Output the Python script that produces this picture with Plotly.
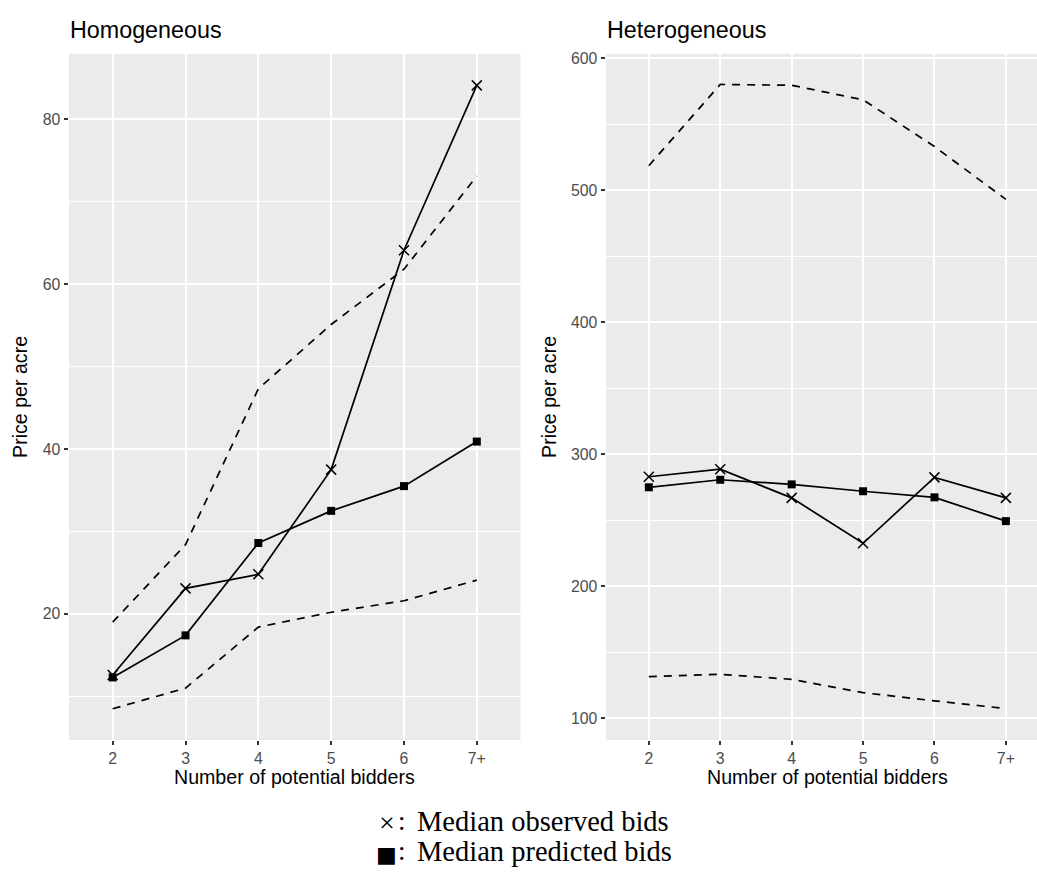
import plotly.graph_objects as go

W, H = 1037, 876

categories = ["2", "3", "4", "5", "6", "7+"]

# Homogeneous panel
homo_observed = [12.6, 23.1, 24.8, 37.5, 64.1, 84.1]
homo_predicted = [12.3, 17.4, 28.6, 32.5, 35.5, 40.9]
homo_upper = [19.0, 28.4, 47.3, 55.1, 61.8, 73.1]
homo_lower = [8.5, 11.0, 18.4, 20.2, 21.6, 24.1]

# Heterogeneous panel
hetero_observed = [283.0, 288.7, 267.0, 232.6, 282.5, 267.0]
hetero_predicted = [275.0, 280.7, 277.2, 272.0, 267.4, 249.4]
hetero_upper = [518.5, 580.0, 579.4, 568.4, 533.0, 493.0]
hetero_lower = [131.6, 133.4, 129.6, 119.5, 113.3, 107.5]

panel_titles = ["Homogeneous", "Heterogeneous"]
x_title = "Number of potential bidders"
y_title = "Price per acre"
legend_lines = ["Median observed bids", "Median predicted bids"]

SANS = "Liberation Sans, Arial, Helvetica, sans-serif"
SERIF = "Liberation Serif, Times New Roman, serif"
LW = 1.7
DASH = "8px,7px"

fig = go.Figure()

def add_panel(xa, ya, obs, pred, up, lo):
    for band in (up, lo):
        fig.add_trace(go.Scatter(x=categories, y=band, mode="lines",
                                 line=dict(color="black", width=LW, dash=DASH),
                                 xaxis=xa, yaxis=ya, showlegend=False, hoverinfo="skip"))
    fig.add_trace(go.Scatter(x=categories, y=obs, mode="lines+markers",
                             line=dict(color="black", width=LW),
                             marker=dict(symbol="x-thin-open", size=10,
                                         line=dict(color="black", width=1.5)),
                             xaxis=xa, yaxis=ya, showlegend=False))
    fig.add_trace(go.Scatter(x=categories, y=pred, mode="lines+markers",
                             line=dict(color="black", width=LW),
                             marker=dict(symbol="square", size=8, color="black"),
                             xaxis=xa, yaxis=ya, showlegend=False))

add_panel("x", "y", homo_observed, homo_predicted, homo_upper, homo_lower)
add_panel("x2", "y2", hetero_observed, hetero_predicted, hetero_upper, hetero_lower)

def px_x(p):
    return p / W

def px_y(p):
    return 1 - p / H

ydom = [px_y(739.3), px_y(50)]

xcommon = dict(type="category", categoryorder="array", categoryarray=categories,
               showgrid=True, gridcolor="white", gridwidth=2,
               ticks="outside", ticklen=4.5, tickwidth=1.6, tickcolor="#333333",
               tickfont=dict(family=SANS, size=15.8, color="#4D4D4D"),
               showline=False, zeroline=False)
ycommon = dict(showgrid=True, gridcolor="white", gridwidth=2,
               ticks="outside", ticklen=4.5, tickwidth=1.6, tickcolor="#333333",
               tickfont=dict(family=SANS, size=15.8, color="#4D4D4D"),
               showline=False, zeroline=False, domain=ydom)

fig.update_layout(
    width=W, height=H,
    margin=dict(l=0, r=0, t=0, b=0),
    paper_bgcolor="white", plot_bgcolor="#EBEBEB",
    showlegend=False,
    xaxis=dict(xcommon, domain=[px_x(69), px_x(520.5)], range=[-0.6, 5.6], anchor="y"),
    yaxis=dict(ycommon, range=[4.72, 87.93], tick0=0, dtick=20, anchor="x",
               minor=dict(showgrid=True, gridcolor="white", gridwidth=1, dtick=10, tick0=0, ticks="")),
    xaxis2=dict(xcommon, domain=[px_x(606), 1.0], range=[-0.6, 5.436], anchor="y2"),
    yaxis2=dict(ycommon, range=[83.72, 603.24], tick0=0, dtick=100, anchor="x2",
                minor=dict(showgrid=True, gridcolor="white", gridwidth=1, dtick=50, tick0=0, ticks="")),
)

ann = []
# panel titles
for t, x0 in zip(panel_titles, [68, 605]):
    ann.append(dict(text=t, x=px_x(x0), y=px_y(26), xref="paper", yref="paper",
                    xanchor="left", yanchor="middle", showarrow=False,
                    font=dict(family=SANS, size=23.3, color="black")))
# x titles
for xc in [294.8, 827.5]:
    ann.append(dict(text=x_title, x=px_x(xc), y=px_y(777), xref="paper", yref="paper",
                    xanchor="center", yanchor="middle", showarrow=False,
                    font=dict(family=SANS, size=19.6, color="black")))
# y titles
for xc in [20, 549]:
    ann.append(dict(text=y_title, x=px_x(xc), y=px_y(394.7), xref="paper", yref="paper",
                    xanchor="center", yanchor="middle", showarrow=False, textangle=-90,
                    font=dict(family=SANS, size=19.6, color="black")))
# legend (math-style)
for i, txt in enumerate(legend_lines):
    yc = [821, 851][i]
    if i == 0:
        ann.append(dict(text="\u00d7", x=px_x(386.5), y=px_y(yc + 1), xref="paper", yref="paper",
                        xanchor="center", yanchor="middle", showarrow=False,
                        font=dict(family=SERIF, size=28, color="black")))
    else:
        ann.append(dict(text="\u25a0", x=px_x(386.5), y=px_y(yc + 3), xref="paper", yref="paper",
                        xanchor="center", yanchor="middle", showarrow=False,
                        font=dict(family="DejaVu Sans", size=22, color="black")))
    ann.append(dict(text=":", x=px_x(401.5), y=px_y(yc), xref="paper", yref="paper",
                    xanchor="center", yanchor="middle", showarrow=False,
                    font=dict(family=SERIF, size=27, color="black")))
    ann.append(dict(text=txt, x=px_x(414.5), y=px_y(yc), xref="paper", yref="paper",
                    xanchor="left", yanchor="middle", showarrow=False,
                    font=dict(family=SERIF, size=28.5, color="black")))

fig.update_layout(annotations=ann)
fig.write_html("out.html")
